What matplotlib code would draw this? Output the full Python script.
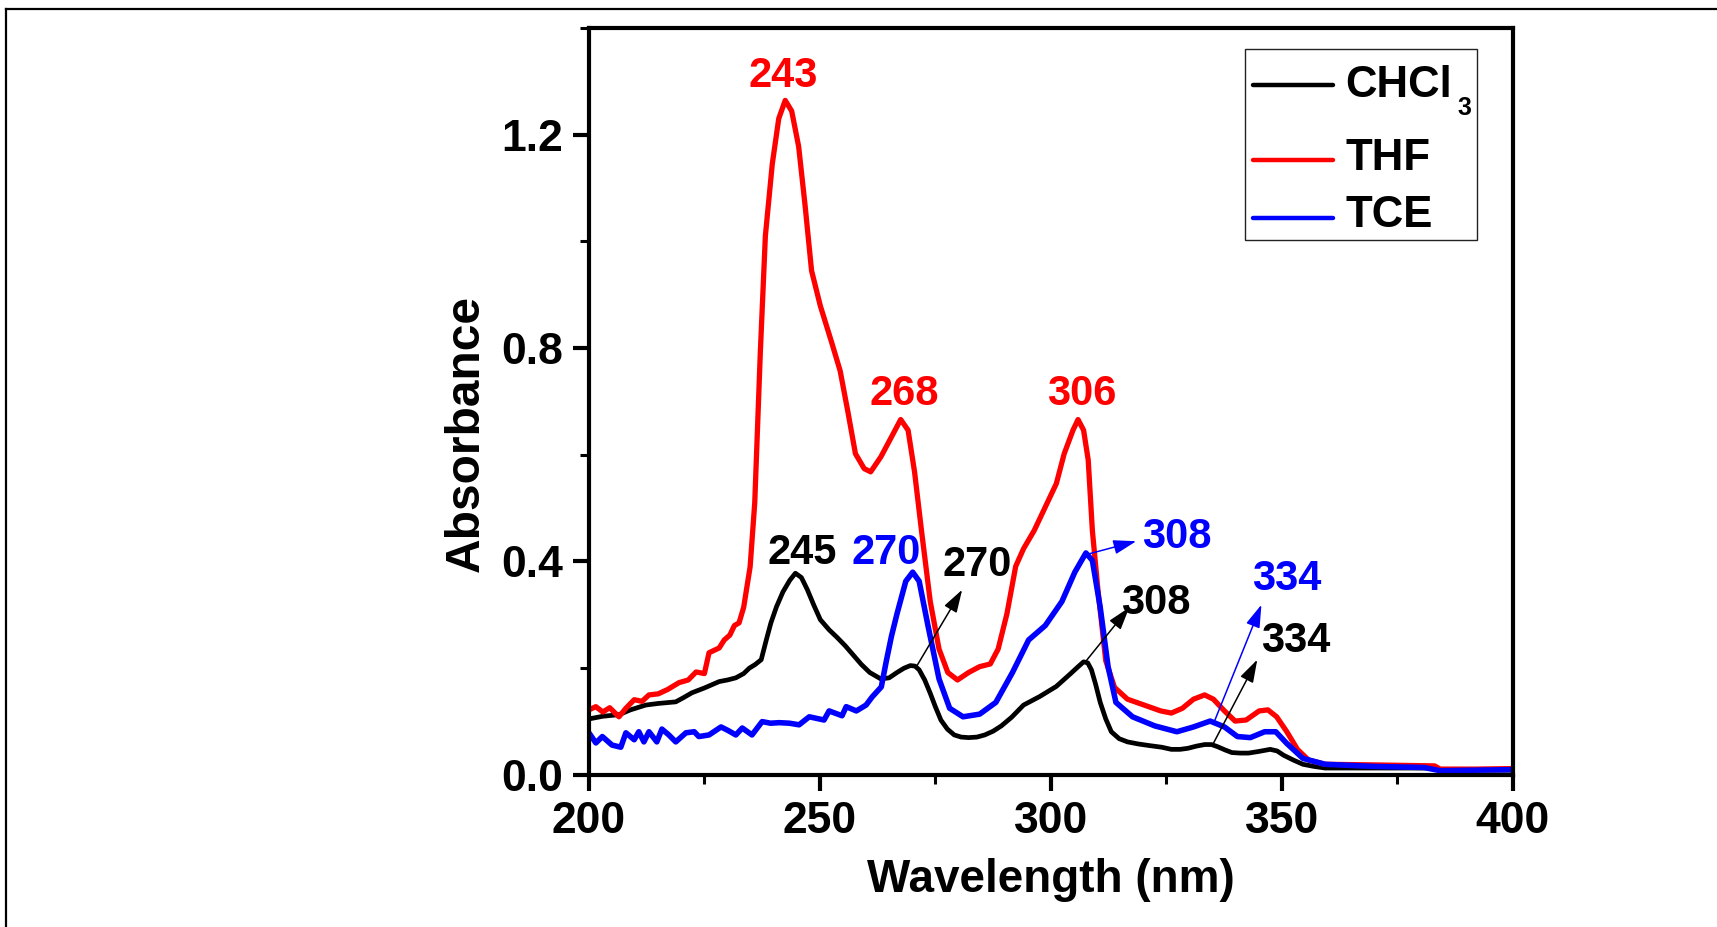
import numpy as np
import matplotlib
matplotlib.use("Agg")
import matplotlib.pyplot as plt
from matplotlib.ticker import MultipleLocator
from matplotlib.lines import Line2D
from matplotlib.patches import Rectangle

# UV-Vis absorption spectra in three solvents: (wavelength nm, absorbance)
chcl3 = [
    (200, 0.105), (203, 0.110), (206.5, 0.113), (209, 0.122), (212.3, 0.131), (215, 0.134),
    (218.8, 0.137), (220.5, 0.145), (222.3, 0.154), (225, 0.163), (228.2, 0.175), (230, 0.178),
    (231.8, 0.182), (233.5, 0.190), (234.7, 0.200), (236, 0.207), (237.3, 0.216), (238.4, 0.253),
    (239.4, 0.285), (240.6, 0.315), (242, 0.343), (243.5, 0.365), (244.7, 0.378), (246, 0.370),
    (247.3, 0.347), (248.7, 0.318), (250.1, 0.291), (252, 0.272), (253.7, 0.258), (255.5, 0.242),
    (257.2, 0.225), (259, 0.207), (260.8, 0.192), (263.2, 0.180), (265, 0.182), (266.7, 0.192),
    (268.2, 0.200), (269.6, 0.205), (270.6, 0.204), (271.5, 0.197), (272.7, 0.178), (273.9, 0.153),
    (275, 0.128), (276.2, 0.103), (277.6, 0.086), (279.1, 0.075), (280.6, 0.071), (282.2, 0.070),
    (284, 0.071), (285.7, 0.075), (287.5, 0.082), (289.3, 0.092), (291.5, 0.108), (294.1, 0.131),
    (297.6, 0.147), (301.2, 0.166), (304.3, 0.190), (305.8, 0.202), (307.1, 0.212), (308, 0.210),
    (308.8, 0.197), (309.7, 0.170), (310.7, 0.136), (311.9, 0.105), (313.1, 0.081), (314.8, 0.068),
    (316.6, 0.062), (319, 0.058), (321.4, 0.055), (324, 0.052), (326.1, 0.048), (328, 0.048),
    (329.7, 0.050), (331.5, 0.054), (333.3, 0.057), (334.8, 0.057), (336.1, 0.053), (337.7, 0.047),
    (339.2, 0.042), (341, 0.041), (342.8, 0.041), (345, 0.044), (347.5, 0.048), (349, 0.045),
    (350.4, 0.037), (352.5, 0.028), (354.6, 0.020), (357, 0.016), (359.4, 0.013), (365, 0.013),
    (372, 0.013), (378, 0.013), (383.3, 0.013), (384.3, 0.009), (390, 0.009), (395, 0.009),
    (400, 0.009),
]

thf = [
    (200, 0.122), (201.5, 0.128), (203, 0.118), (204.5, 0.126), (206.5, 0.109), (208, 0.125),
    (209.8, 0.141), (211.5, 0.138), (213, 0.150), (215, 0.152), (217, 0.160), (219.5, 0.173),
    (221.5, 0.178), (223.2, 0.193), (225, 0.190), (226, 0.229), (228.2, 0.238), (229.3, 0.253),
    (230.5, 0.262), (231.5, 0.280), (232.5, 0.285), (233.5, 0.314), (234.9, 0.390), (235.9, 0.510),
    (237.1, 0.790), (238.2, 1.010), (239.7, 1.145), (241.1, 1.230), (242.5, 1.264), (243.9, 1.244),
    (245.4, 1.178), (246.8, 1.067), (248.2, 0.945), (250.1, 0.879), (252.5, 0.812), (254.4, 0.757),
    (256.1, 0.679), (257.7, 0.602), (259.6, 0.574), (261, 0.568), (263.2, 0.596), (265.6, 0.635),
    (267.5, 0.666), (269.1, 0.646), (270.5, 0.568), (272, 0.458), (273.9, 0.325), (275.8, 0.236),
    (277.7, 0.192), (279.8, 0.178), (282.2, 0.192), (284.6, 0.203), (286.9, 0.208), (288.6, 0.236),
    (290.5, 0.302), (292.4, 0.391), (294.1, 0.424), (296.4, 0.458), (298.8, 0.502), (301.2, 0.546),
    (302.9, 0.602), (304.8, 0.646), (305.9, 0.666), (307.1, 0.646), (308.1, 0.590), (309, 0.458),
    (310.2, 0.347), (311.9, 0.214), (313.8, 0.164), (316.6, 0.142), (320.2, 0.131), (323.8, 0.120),
    (326.1, 0.116), (328.5, 0.125), (330.9, 0.142), (333.3, 0.150), (335.2, 0.142), (337.6, 0.120),
    (339.9, 0.101), (342.3, 0.103), (345.1, 0.120), (347, 0.122), (348.9, 0.109), (351.1, 0.081),
    (353.4, 0.048), (355.8, 0.028), (359.4, 0.020), (368.9, 0.019), (376, 0.018), (383.1, 0.017),
    (384.3, 0.011), (392, 0.011), (400, 0.012),
]

tce = [
    (200, 0.079), (201.5, 0.060), (202.9, 0.072), (205, 0.056), (206.9, 0.052), (208, 0.079),
    (209.8, 0.066), (210.8, 0.081), (211.9, 0.062), (213, 0.081), (214.7, 0.062), (215.8, 0.086),
    (217.3, 0.075), (218.8, 0.062), (221, 0.079), (222.8, 0.081), (223.8, 0.072), (226, 0.075),
    (228.6, 0.090), (230.2, 0.083), (231.8, 0.075), (233.2, 0.088), (235.3, 0.075), (237.5, 0.100),
    (239.3, 0.097), (241.2, 0.098), (243.4, 0.097), (245.5, 0.094), (247.7, 0.109), (250.9, 0.103),
    (252, 0.120), (254.8, 0.111), (255.7, 0.128), (257.9, 0.120), (260, 0.131), (261.3, 0.146),
    (263.3, 0.165), (264.4, 0.214), (265.5, 0.260), (266.7, 0.302), (268.6, 0.363), (270.1, 0.380),
    (271.5, 0.363), (273.4, 0.280), (275.8, 0.180), (278.1, 0.125), (281, 0.109), (284.6, 0.114),
    (288.1, 0.136), (291.7, 0.192), (295.2, 0.253), (298.8, 0.280), (302.4, 0.325), (305.2, 0.380),
    (307.6, 0.416), (309, 0.402), (310.7, 0.314), (312.4, 0.203), (314.1, 0.136), (317.7, 0.109),
    (322.5, 0.092), (327.3, 0.081), (330.9, 0.090), (334.5, 0.101), (337.6, 0.090), (340.4, 0.072),
    (343.2, 0.070), (346.3, 0.081), (348.7, 0.081), (351.1, 0.059), (354.6, 0.031), (359.4, 0.020),
    (370, 0.016), (380.8, 0.014), (384.3, 0.008), (392, 0.009), (400, 0.010),
]

series_names = ["CHCl", "THF", "TCE"]
series_subscripts = ["3", "", ""]
series_colors = ["#000000", "#ff0000", "#0000ff"]

# Peak labels: (text, x, y, colour)
peak_labels = [
    ("243", 242.0, 1.310, "#ff0000"),
    ("268", 268.2, 0.714, "#ff0000"),
    ("306", 306.6, 0.714, "#ff0000"),
    ("245", 246.1, 0.415, "#000000"),
    ("270", 264.4, 0.415, "#0000ff"),
    ("270", 284.1, 0.393, "#000000"),
    ("308", 327.3, 0.445, "#0000ff"),
    ("308", 322.8, 0.323, "#000000"),
    ("334", 351.1, 0.367, "#0000ff"),
    ("334", 353.0, 0.251, "#000000"),
]

# Pointer arrows: (tail x, tail y, head x, head y, colour)
pointer_arrows = [
    (270.9, 0.203, 280.8, 0.347, "#000000"),
    (307.7, 0.413, 318.5, 0.438, "#0000ff"),
    (307.3, 0.210, 317.0, 0.314, "#000000"),
    (335.4, 0.100, 345.6, 0.319, "#0000ff"),
    (335.0, 0.056, 344.7, 0.216, "#000000"),
]

plt.rcParams["font.family"] = ["Liberation Sans", "DejaVu Sans"]
plt.rcParams["font.weight"] = "bold"

W, H = 1717, 927
fig = plt.figure(figsize=(W / 100, H / 100), dpi=100)
ax = fig.add_axes([0.343, 0.164, 0.538, 0.806])

for data, col, lw in zip([chcl3, thf, tce], series_colors, [3.4, 3.8, 4.0]):
    arr = np.array(data)
    ax.plot(arr[:, 0], arr[:, 1], color=col, lw=lw, solid_joinstyle="round",
            solid_capstyle="butt")

for txt, x, y, col in peak_labels:
    ax.text(x, y, txt, color=col, fontsize=30, fontweight="bold", ha="center", va="center")

for x0, y0, x1, y1, col in pointer_arrows:
    ax.annotate("", xy=(x1, y1), xytext=(x0, y0),
                arrowprops=dict(arrowstyle="-|>,head_length=0.7,head_width=0.22",
                                mutation_scale=20, color=col, lw=1.1,
                                shrinkA=0, shrinkB=0))

ax.set_xlim(200, 400)
ax.set_ylim(0, 1.4)
ax.xaxis.set_major_locator(MultipleLocator(50))
ax.xaxis.set_minor_locator(MultipleLocator(25))
ax.yaxis.set_major_locator(MultipleLocator(0.4))
ax.yaxis.set_minor_locator(MultipleLocator(0.2))
ax.yaxis.set_major_formatter(plt.FuncFormatter(lambda v, p: f"{v:.1f}"))

for sp in ax.spines.values():
    sp.set_linewidth(3.0)
ax.tick_params(which="major", direction="out", length=11.5, width=3.0,
               labelsize=32, pad=7)
ax.tick_params(which="minor", direction="out", length=6.5, width=2.2)
for lbl in ax.get_xticklabels() + ax.get_yticklabels():
    lbl.set_fontweight("bold")

ax.set_xlabel("Wavelength (nm)", fontsize=33, fontweight="bold")
ax.set_ylabel("Absorbance", fontsize=34.5, fontweight="bold")
ax.xaxis.set_label_coords(0.5, -0.111)
ax.yaxis.set_label_coords(-0.108, 0.457)


def fx(px):
    return px / W


def fy(py):
    return 1 - py / H


# Legend box with line keys and solvent names
fig.add_artist(Rectangle((fx(1245), fy(240)), fx(1477) - fx(1245), fy(49) - fy(240),
                         transform=fig.transFigure, facecolor="white",
                         edgecolor="#222222", lw=1.0, zorder=3))
key_rows = [(85, 97), (160, 170), (218, 227)]  # (key line y, text baseline y) in pixels
for name, sub, col, (ky, by) in zip(series_names, series_subscripts, series_colors, key_rows):
    fig.add_artist(Line2D([fx(1253), fx(1333)], [fy(ky), fy(ky)], color=col, lw=3.2,
                          solid_capstyle="round", transform=fig.transFigure, zorder=4))
    fig.text(fx(1345), fy(by), name, fontsize=31.5, fontweight="bold",
             ha="left", va="baseline", zorder=5)
    if sub:
        fig.text(fx(1457), fy(by + 18), sub, fontsize=18, fontweight="bold",
                 ha="left", va="baseline", zorder=5)

# Partial page frame along top and left edges
fig.add_artist(Line2D([fx(6), 1.0], [fy(9), fy(9)], color="black", lw=1.6,
                      transform=fig.transFigure))
fig.add_artist(Line2D([fx(6), fx(6)], [0.0, fy(9)], color="black", lw=1.6,
                      transform=fig.transFigure))

fig.savefig("out.png", dpi=100)
